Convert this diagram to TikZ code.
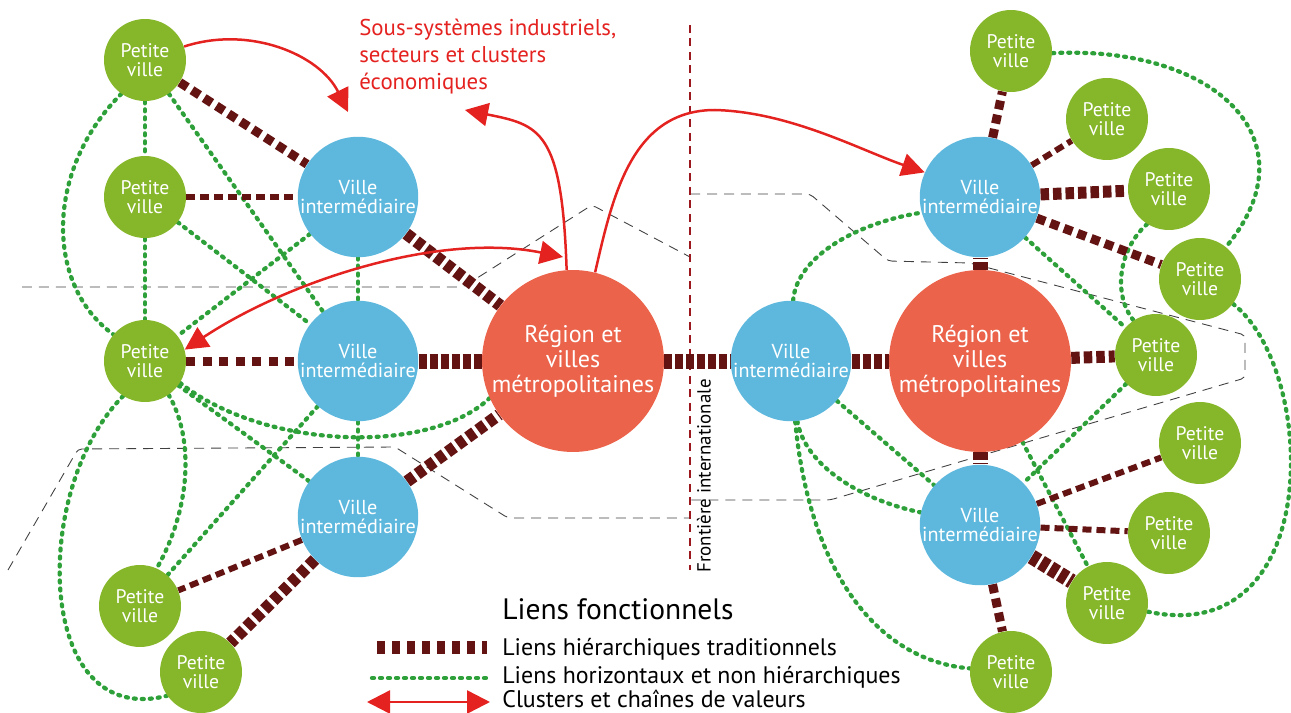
\documentclass[tikz,border=0pt]{standalone}
\usepackage{fontspec}
\setmainfont{PT Sans}
\usetikzlibrary{arrows.meta,backgrounds}

\definecolor{petitegreen}{RGB}{134,182,41}
\definecolor{villeblue}{RGB}{94,184,222}
\definecolor{regionred}{RGB}{235,99,74}
\definecolor{hierbrown}{RGB}{99,19,18}
\definecolor{horizgreen}{RGB}{46,160,58}
\definecolor{clusterred}{RGB}{228,34,32}
\definecolor{frontierred}{RGB}{155,25,30}

\tikzset{
  clustip/.tip={Triangle[length=0.46cm,width=0.46cm]},
  petite/.style={circle,fill=petitegreen,minimum size=1.64cm,inner sep=0pt,text=white,align=center,font=\fontsize{11.2}{10.5}\selectfont},
  ville/.style={circle,fill=villeblue,minimum size=2.4cm,inner sep=0pt,text=white,align=center,font=\fontsize{11.5}{10.8}\selectfont},
  region/.style={circle,fill=regionred,minimum size=3.64cm,inner sep=0pt,text=white,align=center,font=\fontsize{13.7}{14.2}\selectfont},
  hierthin/.style={draw=hierbrown,line width=0.12cm,dash pattern=on 0.18cm off 0.1cm},
  hier/.style={draw=hierbrown,line width=0.18cm,dash pattern=on 0.18cm off 0.11cm},
  hierbig/.style={draw=hierbrown,line width=0.24cm,dash pattern=on 0.17cm off 0.08cm},
  hierhuge/.style={draw=hierbrown,line width=0.3cm,dash pattern=on 0.16cm off 0.06cm},
  horiz/.style={draw=horizgreen,line width=0.085cm,line cap=round,dash pattern=on 0.04cm off 0.12cm},
  cluster/.style={draw=clusterred,line width=0.05cm,-clustip},
  clusboth/.style={cluster,clustip-clustip},
  zone/.style={draw=black!75,line width=0.5pt,dash pattern=on 0.2cm off 0.14cm,rounded corners=0.08cm},
  frontier/.style={draw=frontierred,line width=0.045cm,dash pattern=on 0.16cm off 0.11cm},
  legtext/.style={anchor=base west,inner sep=0pt,font=\fontsize{13.6}{15}\selectfont},
}

\begin{document}
\begin{tikzpicture}[x=0.02cm,y=-0.02cm]
  \useasboundingbox (0,0) rectangle (1291,713);

  % left side
  \node[petite] (pvA) at (145,60) {Petite\\ville};
  \node[petite] (pvB) at (145,197) {Petite\\ville};
  \node[petite] (pvC) at (145,361) {Petite\\ville};
  \node[petite] (pvD) at (140,606) {Petite\\ville};
  \node[petite] (pvE) at (201,672) {Petite\\ville};
  \node[ville] (viA) at (358,197) {Ville\\intermédiaire};
  \node[ville] (viB) at (358,361) {Ville\\intermédiaire};
  \node[ville] (viC) at (358,517) {Ville\\intermédiaire};
  \node[region] (regW) at (573,361) {Région et\\villes\\métropolitaines};

  % right side
  \node[ville] (viD) at (791,361) {Ville\\intermédiaire};
  \node[region] (regE) at (980,361) {Région et\\villes\\métropolitaines};
  \node[ville] (viE) at (980,197) {Ville\\intermédiaire};
  \node[ville] (viF) at (980,525) {Ville\\intermédiaire};
  \node[petite] (pvF) at (1011,51) {Petite\\ville};
  \node[petite] (pvG) at (1107,119) {Petite\\ville};
  \node[petite] (pvH) at (1169,189) {Petite\\ville};
  \node[petite] (pvI) at (1200,279) {Petite\\ville};
  \node[petite] (pvJ) at (1156,355) {Petite\\ville};
  \node[petite] (pvK) at (1200,443) {Petite\\ville};
  \node[petite] (pvL) at (1169,533) {Petite\\ville};
  \node[petite] (pvM) at (1107,603) {Petite\\ville};
  \node[petite] (pvN) at (1011,672) {Petite\\ville};

  \begin{scope}[on background layer]
    % zones
    \draw[zone] (22,287) -- (463,287) -- (592,205) -- (690,257);
    \draw[zone] (8,570) -- (78,449) -- (395,447) -- (508,518) -- (690,518);
    \draw[zone] (690,194) -- (810,194) -- (888,261) -- (970,263) -- (1245,335)
      -- (1245,378) -- (830,500) -- (690,500);
    \draw[frontier] (690,25) -- (690,570);

    % liens horizontaux
    \draw[horiz] (pvA) -- (pvB);
    \draw[horiz] (pvB) -- (pvC);
    \draw[horiz] (pvA.235) .. controls (45,170) and (45,285) .. (pvC.140);
    \draw[horiz] (pvA) -- (viB);
    \draw[horiz] (pvB) -- (viB);
    \draw[horiz] (viA) -- (pvC);
    \draw[horiz] (viA) -- (viB);
    \draw[horiz] (viB) -- (viC);
    \draw[horiz] (pvC) -- (viC);
    \draw[horiz] (pvC.328) .. controls (265,450) and (430,455) .. (regW.204);
    \draw[horiz] (viB) -- (pvD);
    \draw[horiz] (pvC.305) .. controls (195,440) and (190,510) .. (pvD.66);
    \draw[horiz] (pvC.238) .. controls (30,490) and (35,730) .. (pvE.215);
    \draw[horiz] (viD.88) .. controls (797,255) and (860,222) .. (viE.195);
    \draw[horiz] (viD) -- (viF);
    \draw[horiz] (viD.276) .. controls (805,465) and (860,500) .. (viF.168);
    \draw[horiz] (viD.274) .. controls (808,560) and (870,660) .. (pvN.175);
    \draw[horiz] (viE) -- (pvJ);
    \draw[horiz] (pvJ) -- (viF);
    \draw[horiz] (regE) -- (pvM);
    \draw[horiz] (pvH.238) .. controls (1118,250) and (1113,295) .. (pvJ.123);
    \draw[horiz] (pvF.357) .. controls (1215,45) and (1315,140) .. (pvI.51);
    \draw[horiz] (pvI.323) .. controls (1318,370) and (1325,650) .. (pvM.348);

    % liens hierarchiques
    \draw[hier] (pvA) -- (viA);
    \draw[hierthin] (pvB) -- (viA);
    \draw[hier,dash pattern=on 0.18cm off 0.15cm] (pvC) -- (viB);
    \draw[hierbig] (viA) -- (regW);
    \draw[hierhuge] (viB) -- (regW);
    \draw[hierbig] (viC) -- (regW);
    \draw[hierthin] (viC) -- (pvD);
    \draw[hierbig] (viC) -- (pvE);
    \draw[hierhuge] (regW) -- (viD);
    \draw[hierhuge] (viD) -- (regE);
    \draw[hierhuge] (regE) -- (viE);
    \draw[hierhuge] (regE) -- (viF);
    \draw[hier] (viE) -- (pvF);
    \draw[hierthin] (viE) -- (pvG);
    \draw[hierbig] (viE) -- (pvH);
    \draw[hier] (viE) -- (pvI);
    \draw[hierbig] (regE) -- (pvJ);
    \draw[hierthin] (viF) -- (pvK);
    \draw[hierthin] (viF) -- (pvL);
    \draw[hierhuge] (viF) -- (pvM);
    \draw[hier] (viF) -- (pvN);
  \end{scope}

  % clusters
  \coordinate (clusA) at (348,112);
  \coordinate (clusB) at (465,110);
  \coordinate (clusC) at (563,257);
  \draw[cluster] (pvA.19) .. controls (250,25) and (320,55) .. (clusA);
  \draw[cluster] (regW.94) .. controls (562,130) and (540,125) .. (clusB);
  \draw[cluster] (regW.76) .. controls (612,200) and (630,110) .. (715,110)
    .. controls (790,112) and (860,150) .. (viE.156);
  \draw[clusboth] (pvC.16) .. controls (290,280) and (440,232) .. (clusC);

  \node[anchor=north west,inner sep=0pt,align=left,text=clusterred,font=\fontsize{13}{15.3}\selectfont] (clusText) at (359,19)
    {Sous-systèmes industriels,\\secteurs et clusters\\économiques};
  \node[rotate=90,inner sep=0pt,font=\fontsize{10.8}{12}\selectfont] (frontLabel) at (704,476) {Frontière internationale};

  % legende
  \node[anchor=west,inner sep=0pt,font=\fontsize{16.8}{18}\selectfont] (legTitle) at (502,609) {Liens fonctionnels};
  \node[legtext] (legHier) at (502,655) {Liens hiérarchiques traditionnels};
  \node[legtext] (legHoriz) at (502,683) {Liens horizontaux et non hiérarchiques};
  \node[legtext] (legClus) at (502,707) {Clusters et chaînes de valeurs};
  \coordinate (legHierA) at (377,647);
  \coordinate (legHierB) at (487,647);
  \coordinate (legHorizA) at (372,678);
  \coordinate (legHorizB) at (487,678);
  \coordinate (legClusA) at (367,702);
  \coordinate (legClusB) at (490,702);
  \draw[hier,line width=0.26cm,dash pattern=on 0.16cm off 0.14cm] (legHierA) -- (legHierB);
  \draw[horiz] (legHorizA) -- (legHorizB);
  \draw[clusboth] (legClusA) -- (legClusB);
\end{tikzpicture}
\end{document}
